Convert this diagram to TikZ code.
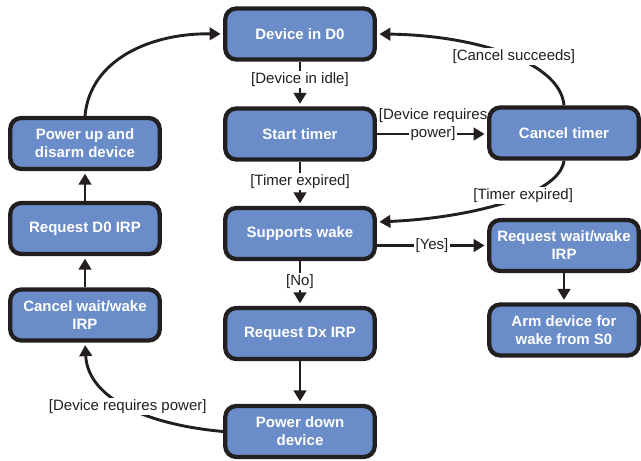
\documentclass[tikz,border=0pt]{standalone}
\usepackage{fontspec}
\setmainfont{Liberation Sans}
\usetikzlibrary{arrows.meta,calc}
\definecolor{boxblue}{RGB}{106,140,200}
\definecolor{ink}{RGB}{35,31,32}

\begin{document}
\begin{tikzpicture}[x=1pt,y=-1pt,
  state/.style={draw=ink, line width=4.3pt, fill=boxblue, rounded corners=11pt,
    minimum width=149.5pt, minimum height=51pt, inner sep=2pt, align=center,
    text=white, font=\fontsize{15}{18}\selectfont\bfseries},
  conn/.style={draw=ink, line width=2.9pt, shorten >=2.5pt,
    -{Triangle[length=11pt,width=12.5pt]}},
  lbl/.style={fill=white, inner sep=1.5pt, text=ink,
    font=\fontsize{15}{18}\selectfont},
]
\useasboundingbox (0,0) rectangle (641,461);

% centre column
\node[state] (d0) at (300,34) {Device in D0};
\node[state] (st) at (300,134) {Start timer};
\node[state] (sw) at (300,233.5) {Supports wake};
\node[state] (dx) at (300,333.5) {Request Dx IRP};
\node[state] (pd) at (300,431.5) {Power down\\device};
% right column
\node[state] (ct) at (564,133) {Cancel timer};
\node[state] (rw) at (564,245.5) {Request wait/wake\\IRP};
\node[state] (arm) at (564,330) {Arm device for\\wake from S0};
% left column
\node[state] (pu) at (85,143.5) {Power up and\\disarm device};
\node[state] (d0irp) at (85,228.5) {Request D0 IRP};
\node[state] (cw) at (85,315) {Cancel wait/wake\\IRP};

\coordinate (swin) at ($(sw.east)+(0,-11.5)$);

% straight transitions
\draw[conn] (d0) -- node[lbl,pos=0.4]{[Device in idle]} (st);
\draw[conn] (st) -- node[lbl,pos=0.45]{[Timer expired]} (sw);
\draw[conn] (sw) -- node[lbl,pos=0.45]{[No]} (dx);
\draw[conn] (dx) -- (pd);
\draw[conn] (rw) -- (arm);
\draw[conn] (cw) -- (d0irp);
\draw[conn] (d0irp) -- (pu);
\draw[conn] (rw.west -| sw.east) -- node[lbl]{[Yes]} (rw.west);
\draw[conn] (st.east) -- node[lbl,pos=0.51] (pw) {power]} (st.east -| ct.west);
\node[lbl, fill=none, anchor=base] (dr) at ($(pw.base)+(0,-18)$) {[Device requires};

% curved transitions
\draw[conn] (ct.north) .. controls (560,60) and (470,35) ..
  node[lbl,pos=0.45]{[Cancel succeeds]} (d0.east);
\draw[conn] (ct.south) .. controls (560,195) and (470,218) ..
  node[lbl,pos=0.4]{[Timer expired]} (swin);
\draw[conn] (pd.west) .. controls (150,425) and (88,400) ..
  node[lbl,pos=0.5]{[Device requires power]} (cw.south);
\draw[conn] (pu.north) .. controls (90,60) and (150,33) .. (d0.west);
\end{tikzpicture}
\end{document}
